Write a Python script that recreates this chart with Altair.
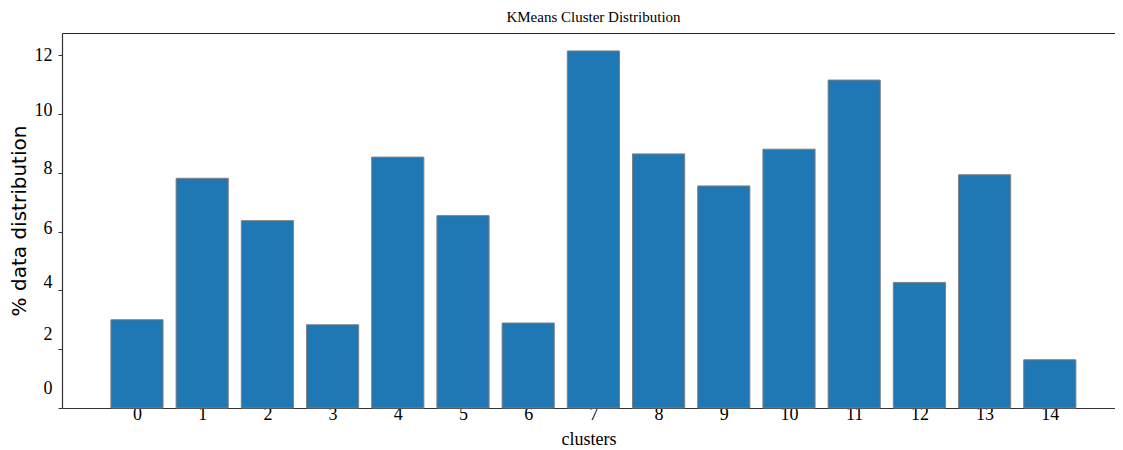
import altair as alt
import pandas as pd

# data
clusters = list(range(15))
pct = [3.00, 7.81, 6.37, 2.83, 8.53, 6.54, 2.89, 12.14, 8.64, 7.55, 8.80, 11.15, 4.27, 7.93, 1.64]
y_ticks = [0, 2, 4, 6, 8, 10, 12]

df = pd.DataFrame({"cluster": clusters, "pct": pct})

SERIF = "Liberation Serif"
BAR_HALF = 0.4
X_DOMAIN = [-1.15, 15.0]
Y_DOMAIN = [0, 12.75]

y_label_offset = {
    "condition": [
        {"test": "datum.value == 0", "value": -20},
        {"test": "datum.value == 2", "value": -15},
        {"test": "datum.value == 4", "value": -8},
        {"test": "datum.value == 6", "value": -3},
        {"test": "datum.value == 8", "value": -4},
        {"test": "datum.value == 10", "value": -3},
    ],
    "value": 0,
}

x_scale = alt.Scale(domain=X_DOMAIN, nice=False, zero=False)
y_scale = alt.Scale(domain=Y_DOMAIN, nice=False, zero=True)

bars = (
    alt.Chart(df)
    .transform_calculate(
        lo=f"datum.cluster - {BAR_HALF}",
        hi=f"datum.cluster + {BAR_HALF}",
        base="0",
    )
    .mark_bar(color="#1f77b4", stroke="#808080", strokeWidth=1)
    .encode(
        x=alt.X(
            "lo:Q",
            scale=x_scale,
            axis=alt.Axis(
                values=clusters,
                format="d",
                title="clusters",
                titleFont=SERIF,
                titleFontSize=18,
                titleFontWeight="normal",
                titleColor="black",
                titleBaseline="alphabetic",
                titleY=36,
                labelAngle=0,
                labelFont=SERIF,
                labelFontSize=18,
                labelColor="black",
                labelBaseline="alphabetic",
                labelPadding=11,
                labelFlush=False,
                ticks=False,
                tickSize=0,
                grid=False,
                domainColor="#333333",
                domainWidth=1.2,
            ),
        ),
        x2="hi:Q",
        y=alt.Y(
            "pct:Q",
            scale=y_scale,
            axis=alt.Axis(
                values=y_ticks,
                title="% data distribution",
                titleFont="DejaVu Sans",
                titleFontSize=20,
                titleFontWeight="normal",
                titleColor="black",
                titleBaseline="alphabetic",
                titleX=-37,
                titleY=187.5,
                labelFont=SERIF,
                labelFontSize=18,
                labelColor="black",
                labelPadding=6,
                labelOffset=y_label_offset,
                tickSize=4,
                tickColor="#333333",
                domainColor="#333333",
                domainWidth=1.2,
                grid=False,
            ),
        ),
        y2="base:Q",
    )
)

# invisible layer that only carries the top frame line (top axis domain)
top_frame = (
    alt.Chart(df)
    .mark_point(opacity=0)
    .encode(
        x=alt.X(
            "cluster:Q",
            scale=x_scale,
            axis=alt.Axis(
                orient="top",
                title=None,
                labels=False,
                ticks=False,
                grid=False,
                domain=True,
                domainColor="#222222",
                domainWidth=1.2,
            ),
        ),
        y=alt.Y("pct:Q", scale=y_scale, axis=None),
    )
)

chart = (
    alt.layer(bars, top_frame)
    .resolve_axis(x="independent", y="independent")
    .properties(
        width=1053,
        height=375,
        title=alt.TitleParams(
            text="KMeans Cluster Distribution",
            font=SERIF,
            fontSize=15,
            fontWeight="normal",
            color="black",
            anchor="middle",
            frame="group",
            baseline="alphabetic",
            offset=-4,
            dx=5,
        ),
        autosize=alt.AutoSizeParams(type="none"),
        padding={"left": 54, "top": 25, "right": 0, "bottom": 42},
    )
    .configure_view(stroke=None)
)

chart.save("out.html", embed_options={"renderer": "svg", "actions": False})
